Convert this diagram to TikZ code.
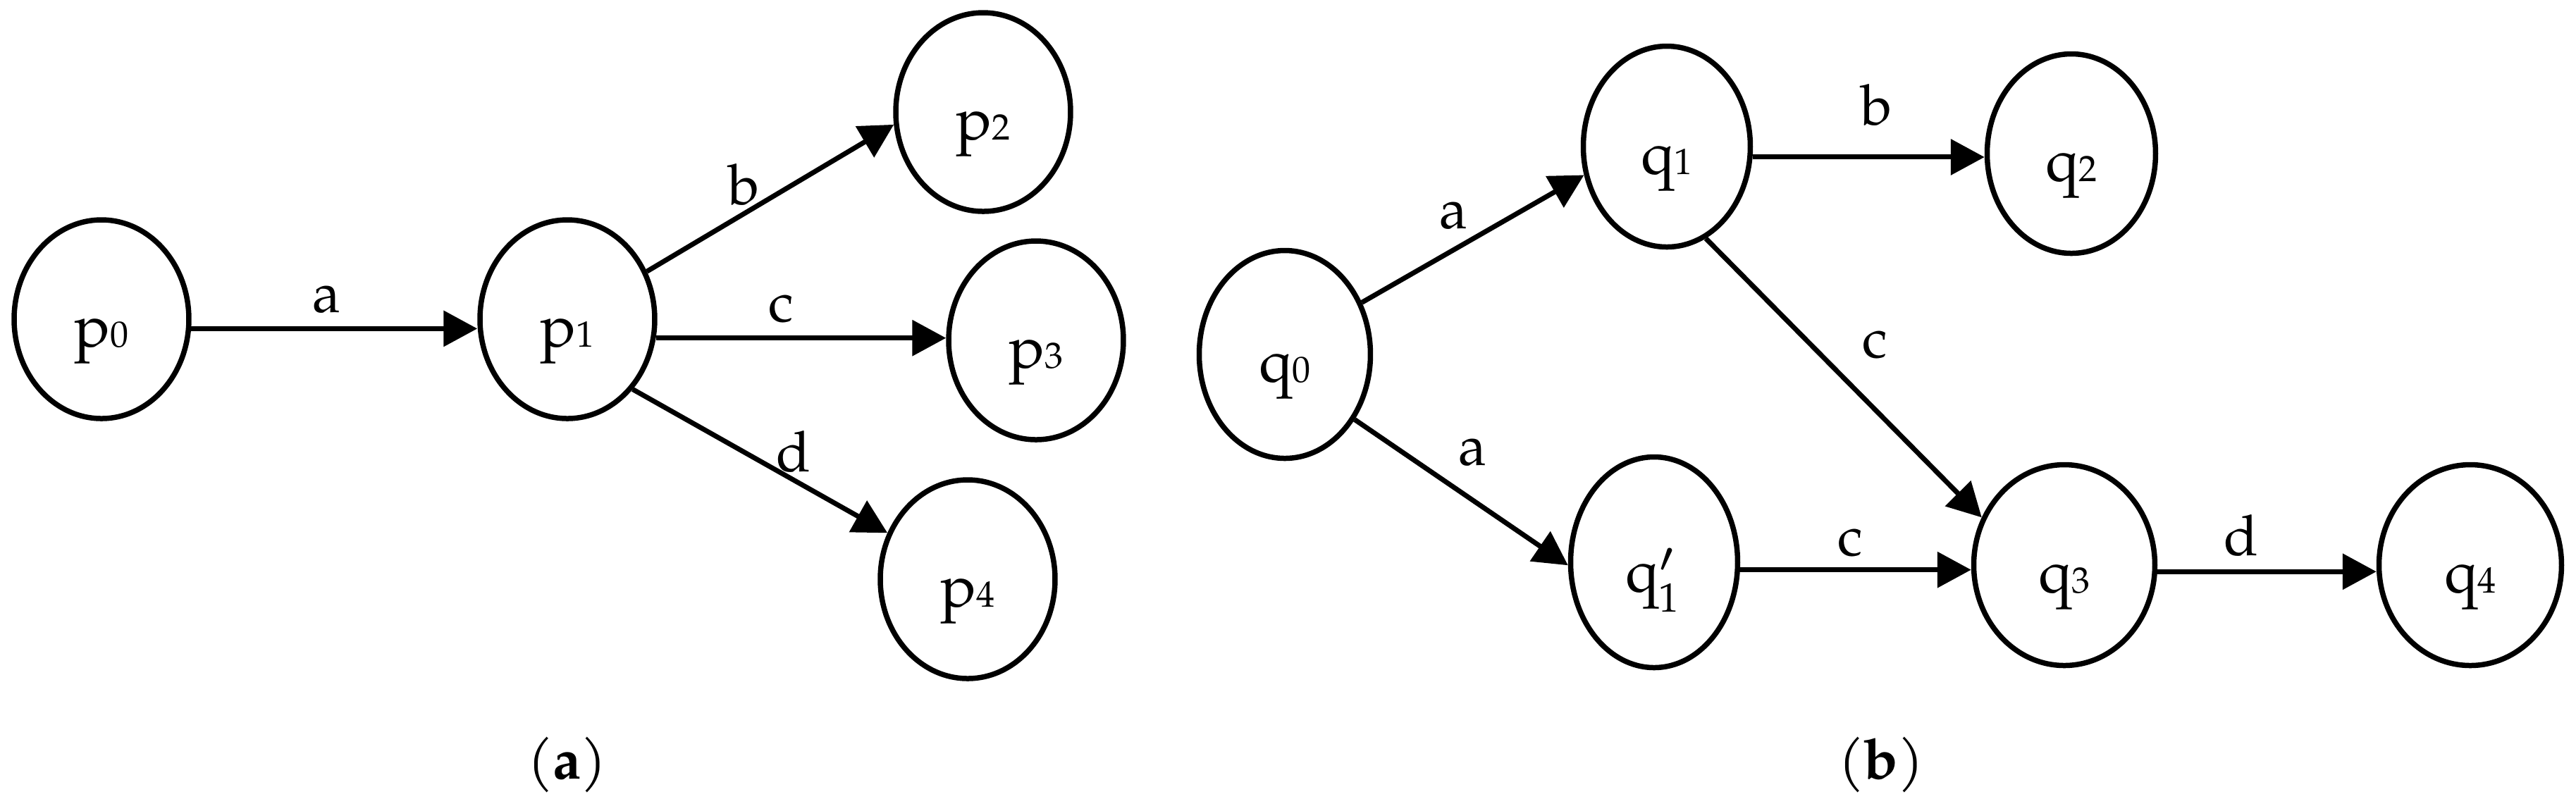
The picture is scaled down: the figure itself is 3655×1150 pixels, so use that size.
\documentclass[tikz,border=0pt]{standalone}
\usepackage{fontspec}
\setmainfont{texgyrepagella}[Extension=.otf, UprightFont=*-regular, BoldFont=*-bold]
\usetikzlibrary{shapes.geometric,arrows.meta}
\newcommand\stlab[2]{\smash{\raisebox{-3.9pt}{\fontsize{8.5}{10}\selectfont #1\fontsize{5.2}{6}\selectfont #2}}}
\begin{document}
\begin{tikzpicture}[x=0.1pt,y=-0.1pt,
  state/.style={ellipse,draw,line width=0.75pt,inner sep=0pt,minimum width=24.8pt,minimum height=28.2pt},
  edge/.style={line width=0.7pt,-{Triangle[length=4.8pt,width=5pt]}},
  lab/.style={anchor=base,inner sep=0pt,font=\fontsize{8}{9}\selectfont},
  captext/.style={anchor=base,inner sep=0pt,font=\fontsize{8}{9}\selectfont}]
\useasboundingbox (0,0) rectangle (3655,1150);
% (a)
\node[state] (p0) at (144,453) {\stlab{p}{0}};
\node[state] (p1) at (805,453) {\stlab{p}{1}};
\node[state] (p2) at (1395,159) {\stlab{p}{2}};
\node[state] (p3) at (1470,483) {\stlab{p}{3}};
\node[state] (p4) at (1373,822) {\stlab{p}{4}};
\draw[edge] (p0.-6) -- (p0.-6 -| p1.west);
\draw[edge] (p1.31) -- (p2.188);
\draw[edge] (p1.-12) -- (p1.-12 -| p3.west);
\draw[edge] (p1.-47) -- (p4.150);
\node[lab] (la) at (464,443) {a};
\node[lab] (lb) at (1056,290) {b};
\node[lab] (lc) at (1108,456) {c};
\node[lab] (ld) at (1126,669) {d};
\node[captext] (capa) at (805,1105) {(\textbf{a})};
% (b)
\node[state,minimum width=24.3pt,minimum height=29.5pt] (q0) at (1823,503) {\stlab{q}{0}};
\node[state,minimum width=23.7pt,minimum height=28.5pt] (q1) at (2365,208) {\stlab{q}{1}};
\node[state,minimum width=23.9pt,minimum height=28.3pt] (q2) at (2939,218) {\stlab{q}{2}};
\node[state,minimum width=23.7pt,minimum height=29.9pt] (q1p) at (2347,798)
  {\smash{\raisebox{-4.2pt}{\fontsize{8.5}{10}\selectfont q$'_{\mbox{\fontsize{5.8}{6}\selectfont 1}}$}}};
\node[state,minimum width=25.7pt,minimum height=28.5pt] (q3) at (2929,802) {\stlab{q}{3}};
\node[state,minimum width=25.9pt,minimum height=28.5pt] (q4) at (3505,802) {\stlab{q}{4}};
\draw[edge] (q0.34) -- (q1.199);
\draw[edge] (q0.-43) -- (q1p.182);
\draw[edge] (q1.-7) -- (q1.-7 -| q2.west);
\draw[edge] (q1.-67) -- (q3.150);
\draw[edge] (q1p.-5.5) -- (q1p.-5.5 -| q3.west);
\draw[edge] (q3.-4) -- (q3.-4 -| q4.west);
\node[lab] (qa1) at (2062,324) {a};
\node[lab] (qa2) at (2089,660) {a};
\node[lab] (qb) at (2663,177) {b};
\node[lab] (qc1) at (2660,507) {c};
\node[lab] (qc2) at (2625,788) {c};
\node[lab] (qd) at (3180,788) {d};
\node[captext] (capb) at (2669,1105) {(\textbf{b})};
\end{tikzpicture}
\end{document}
